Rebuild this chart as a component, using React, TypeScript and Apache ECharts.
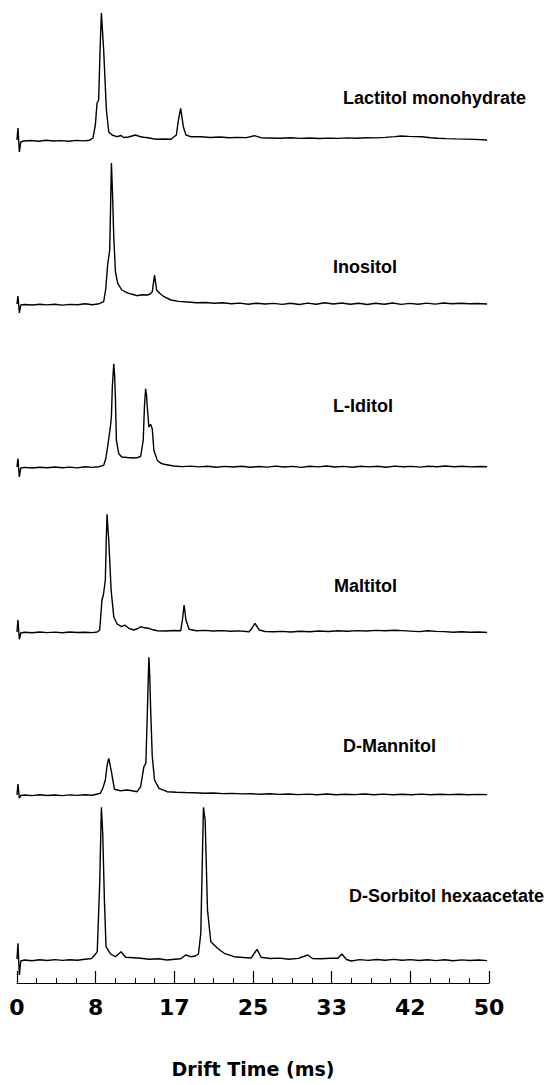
import React, { useEffect, useRef } from "react";
import * as echarts from "echarts";

// Drift-time spectra: [drift time (ms), relative intensity]
const lactitolMonohydrate = [
  [0, 0], [0.1, 12], [0.25, -12], [0.4, -2], [0.7, -1], [1.5, -0.5], [2.3, -1.2], [3.1, -0.3], [3.9, -1], [4.7, -0.6],
  [5.5, -1.3], [6.3, -0.4], [7.1, -0.9], [7.7, -0.2], [8.05, 2], [8.3, 15], [8.48, 37], [8.65, 40], [8.8, 90], [8.94, 127],
  [9.05, 110], [9.18, 90], [9.47, 30], [9.72, 8], [10.07, 5], [10.56, 3.3], [11.03, 4.5], [11.3, 2.5], [11.8, 3], [12.55, 5],
  [13.0, 3.5], [13.4, 2.7], [13.9, 2.3], [14.4, 1.2], [14.86, 0.7], [15.5, 1], [16.3, 0.7], [16.88, 5], [17.1, 20], [17.34, 31.7],
  [17.62, 13.3], [17.9, 5], [18.4, 3.3], [19.5, 3.3], [20.5, 2.5], [21.5, 3], [22.5, 2.2], [23.3, 2.6], [24.3, 2.4], [25.14, 4.3],
  [25.85, 2.3], [26.8, 2], [27.9, 1.7], [29, 2.3], [30, 1.6], [31, 2], [32, 1.5], [33, 1.9], [34, 1.6], [35, 2.1],
  [36, 1.7], [37, 2.2], [38, 2.1], [39, 2.6], [40, 3.4], [40.7, 4], [41.5, 3.6], [42.9, 3.3], [43.8, 2.3], [44.6, 1.7],
  [45.5, 1.4], [46.5, 1.1], [47.5, 0.9], [48.5, 0.6], [49.8, 0],
];

const inositol = [
  [0, 0], [0.1, 8], [0.25, -9], [0.4, -1], [0.8, -0.5], [1.6, -1], [2.4, -0.3], [3.2, -0.9], [4, -0.2], [4.8, -1.1],
  [5.6, -0.4], [6.4, -0.8], [7.2, 0.2], [8, -0.7], [8.7, 0.3], [9.18, 2.3], [9.4, 15], [9.6, 39], [9.82, 54], [9.92, 100],
  [10.0, 141], [10.12, 110], [10.25, 67], [10.43, 32], [10.67, 20.7], [11.1, 14], [11.5, 12], [11.85, 10.7], [12.3, 9.5], [12.73, 8.3],
  [13.2, 9.2], [13.8, 9], [14.1, 10], [14.33, 12.3], [14.57, 29], [14.79, 14], [15.0, 12], [15.2, 10], [15.57, 7.3], [16.3, 4],
  [17.1, 2.6], [18.05, 2], [19, 1.2], [20, 1.5], [20.9, 0.7], [21.8, 1.2], [22.7, 0.2], [23.6, 0.9], [24.5, -0.3], [25.4, 0.8],
  [26.3, 0], [27.2, 0.6], [28.1, -0.4], [29, 0.8], [29.9, -0.5], [30.8, 0.9], [31.7, -0.2], [32.6, 1.2], [33.5, 0], [34.4, 1],
  [35.3, -0.3], [36.2, 0.8], [37.1, -0.5], [38, 0.7], [38.9, -0.2], [39.8, 1], [40.7, -0.4], [41.6, 0.6], [42.5, -0.2], [43.4, 0.9],
  [44.3, -0.1], [45.2, 1], [46.1, 0.3], [47, 0.8], [47.9, 0.2], [48.8, 0.5], [49.8, 0],
];

const lIditol = [
  [0, 0], [0.1, 8.3], [0.25, -10], [0.4, -1], [0.8, -0.4], [1.6, -1], [2.4, -0.2], [3.2, -0.8], [4, 0], [4.8, -0.7],
  [5.6, -0.1], [6.4, -0.9], [7.2, 0.2], [8, -0.4], [8.7, 0.3], [9.18, 1.7], [9.4, 8], [9.6, 20], [9.89, 40], [10.0, 50],
  [10.1, 80], [10.25, 103.3], [10.35, 90], [10.43, 66.7], [10.53, 26.7], [10.78, 13.3], [11.1, 10], [11.7, 9.5], [12.37, 9], [12.8, 9.5],
  [13.1, 10.7], [13.37, 26.7], [13.5, 60], [13.62, 78.3], [13.72, 72], [13.8, 60], [13.97, 40], [14.15, 42.7], [14.33, 38.3], [14.5, 16.7],
  [14.86, 6.7], [15.2, 4], [15.57, 2.7], [16.6, 1], [17.5, 0.4], [18.4, 0.9], [19.3, 0.1], [20.2, 0.7], [21.1, -0.2], [22, 0.6],
  [22.9, 0], [23.8, 0.8], [24.7, -0.3], [25.6, 0.5], [26.5, -0.1], [27.4, 0.9], [28.3, 0], [29.2, 0.6], [30.1, -0.4], [31, 0.7],
  [31.9, 0.1], [32.8, 1], [33.7, 0], [34.6, 0.6], [35.5, -0.3], [36.4, 0.8], [37.3, 0.1], [38.2, 0.7], [39.1, -0.2], [40, 0.9],
  [40.9, 0.2], [41.8, 0.6], [42.7, -0.1], [43.6, 0.8], [44.5, 0.2], [45.4, 1], [46.3, 0.3], [47.2, 0.7], [48.1, 0.1], [49, 0.5],
  [49.8, 0.2],
];

const maltitol = [
  [0, 0], [0.1, 12], [0.25, -7.3], [0.4, -1], [0.8, -0.3], [1.6, -0.8], [2.4, 0], [3.2, -0.6], [4, -0.1], [4.8, -0.7],
  [5.6, 0], [6.4, -0.5], [7.2, -0.2], [8, -0.6], [8.5, 0], [8.76, 2], [9.0, 32], [9.15, 37], [9.36, 52], [9.45, 90],
  [9.54, 117.7], [9.62, 105], [9.72, 92], [9.97, 42], [10.25, 15.3], [10.6, 8], [11.1, 5.3], [11.42, 7], [11.85, 3.7], [12.37, 2],
  [12.8, 3.5], [13.16, 5.3], [13.5, 4.2], [13.97, 3.7], [14.4, 2.2], [14.86, 1.3], [15.7, 1], [16.6, 1.5], [17.34, 1.3], [17.52, 12],
  [17.7, 27], [17.9, 12], [18.23, 2.7], [19, 1.3], [19.9, 1.6], [20.8, 1], [21.7, 1.4], [22.6, 0.8], [23.5, 1.1], [24.6, 0.3],
  [24.9, 4], [25.2, 8.7], [25.67, 2], [26.3, 0.5], [27.2, 0.2], [28.1, 0.6], [29, 0], [30, 0.8], [31, 0.3], [32, 1],
  [33, 0.5], [34, 1.2], [35, 0.8], [36, 1.4], [37, 1], [38, 1.6], [39, 1.2], [40, 1.8], [40.8, 1.4], [41.7, 0.9],
  [42.6, 0.4], [43.5, 1.3], [44.4, 0.6], [45.3, 0.4], [46.2, -0.2], [47.1, 0.3], [48, -0.3], [48.9, 0], [49.8, -0.5],
];

const dMannitol = [
  [0, 0], [0.1, 11], [0.25, -3.3], [0.4, -0.5], [0.8, 0], [1.6, -0.6], [2.4, 0.2], [3.2, -0.5], [4, 0], [4.8, -0.6],
  [5.6, 0.1], [6.4, -0.4], [7.2, 0.2], [8, -0.3], [8.83, 1.7], [9.1, 7], [9.36, 15], [9.55, 30], [9.72, 36.7], [10.0, 23.3],
  [10.32, 5.7], [10.96, 4.3], [11.67, 5], [12.2, 4.2], [12.73, 3.3], [13.1, 8.3], [13.44, 28.3], [13.65, 31.7], [13.8, 80], [13.97, 137.7],
  [14.06, 120], [14.15, 88], [14.33, 38.3], [14.57, 15], [15.04, 6.7], [15.9, 3.3], [16.9, 2.8], [17.8, 2.5], [18.8, 2.3], [19.8, 1.8],
  [20.8, 2], [21.8, 1.4], [22.8, 1.6], [23.8, 1.1], [24.8, 1.3], [25.8, 0.8], [26.8, 1.2], [27.8, 0.6], [28.8, 1], [29.8, 0.4],
  [30.8, 0.9], [31.8, 0.3], [32.8, 1], [33.8, 0.2], [34.8, 0.8], [35.8, 0.4], [36.8, 1], [37.8, 0.3], [38.8, 0.9], [39.8, 0.2],
  [40.8, 0.8], [41.8, 0.3], [42.8, 0.9], [43.8, 0.2], [44.8, 0.7], [45.8, 0.4], [46.8, 0.8], [47.8, 0.3], [48.8, 0.6], [49.8, 0.4],
];

const dSorbitolHexaacetate = [
  [0, 0], [0.1, 15.7], [0.25, -16], [0.4, -2], [0.8, -1], [1.6, -1.8], [2.4, -0.8], [3.2, -1.5], [4, -0.6], [4.8, -1.4],
  [5.6, -0.7], [6.4, -1.2], [7.2, -0.3], [7.9, 0.5], [8.3, 4.7], [8.5, 7.3], [8.76, 75.7], [8.94, 151.7], [9.08, 125.7], [9.26, 59],
  [9.43, 12.3], [9.9, 5], [10.43, 2.3], [11.03, 7.3], [11.5, 1.7], [12.3, 1.2], [13.1, 0.7], [14, -0.3], [15, 0.2], [15.9, -1],
  [16.7, -0.2], [17.34, 0.3], [17.87, 4], [18.4, 2.3], [18.9, 3], [19.22, 5], [19.47, 25.7], [19.75, 151.7], [19.93, 139], [20.18, 49],
  [20.53, 17.3], [21.24, 10.7], [21.95, 5.7], [23.0, 2.3], [24.0, 1.5], [24.8, 1], [25.43, 9.7], [25.85, 1.7], [26.8, 0.5], [27.8, 0.9],
  [28.8, -0.2], [29.8, 0.6], [30.8, 4], [31.3, 0.5], [32.2, 0.2], [33.2, 0.8], [34.0, 0.8], [34.4, 5], [34.9, -0.5], [35.4, -2],
  [36.3, -0.6], [37.2, -1.4], [38.1, -0.5], [39, -1.2], [39.9, -0.4], [40.8, -1.3], [41.7, -0.6], [42.6, -1.5], [43.5, -0.8], [44.4, -1.6],
  [45.3, -0.7], [46.2, -1.8], [47.1, -0.9], [48, -1.5], [48.9, -1], [49.8, -1.6],
];

const compoundNames = [
  "Lactitol monohydrate",
  "Inositol",
  "L-Iditol",
  "Maltitol",
  "D-Mannitol",
  "D-Sorbitol hexaacetate",
];
const spectra = [lactitolMonohydrate, inositol, lIditol, maltitol, dMannitol, dSorbitolHexaacetate];

const tickLabels = ["0", "8", "17", "25", "33", "42", "50"];
const xAxisTitle = "Drift Time (ms)";

// layout (pixels)
const baselines = [140, 304, 467, 632, 795, 959];
const labelPos = [
  [343, 98],
  [333, 267],
  [333, 406],
  [334, 586],
  [343, 746],
  [349, 896],
];
const Y_MIN = -24;
const Y_MAX = 140;
const X_MAX = 50;
const TICK_STEP = X_MAX / 6;

export default function App() {
  const ref = useRef<HTMLDivElement>(null);

  useEffect(() => {
    document.body.style.margin = "0";
    if (!ref.current) return;
    const chart = echarts.init(ref.current, null, { renderer: "svg" });

    const grids = baselines.map((b) => ({
      left: 17,
      right: 67,
      top: b - Y_MAX,
      height: Y_MAX - Y_MIN,
      containLabel: false,
    }));

    const last = baselines.length - 1;
    const xAxes = baselines.map((_, i) => {
      const isBottom = i === last;
      return {
        type: "value",
        gridIndex: i,
        min: 0,
        max: X_MAX,
        interval: TICK_STEP,
        show: isBottom,
        position: "bottom",
        splitLine: { show: false },
        axisLine: { show: isBottom, onZero: false, lineStyle: { color: "#000", width: 1.2 } },
        axisTick: { show: isBottom, inside: true, length: 12, lineStyle: { color: "#000", width: 1.2 } },
        minorTick: { show: isBottom, splitNumber: 4, length: 5, lineStyle: { color: "#000", width: 1 } },
        axisLabel: {
          show: isBottom,
          margin: 13,
          color: "#000",
          fontFamily: "DejaVu Sans",
          fontWeight: "bold",
          fontSize: 22,
          formatter: (v: number) => tickLabels[Math.round(v / TICK_STEP)] ?? "",
        },
        name: isBottom ? xAxisTitle : "",
        nameLocation: "middle",
        nameGap: 76,
        nameTextStyle: {
          color: "#000",
          fontFamily: "DejaVu Sans",
          fontWeight: "bold",
          fontSize: 19,
        },
      };
    });

    const yAxes = baselines.map((_, i) => ({
      type: "value",
      gridIndex: i,
      min: Y_MIN,
      max: Y_MAX,
      show: false,
      splitLine: { show: false },
    }));

    const series = spectra.map((data, i) => ({
      type: "line",
      name: compoundNames[i],
      xAxisIndex: i,
      yAxisIndex: i,
      data,
      showSymbol: false,
      symbol: "none",
      clip: false,
      smooth: false,
      lineStyle: { color: "#000", width: 1.4 },
    }));

    const labels = compoundNames.map((name, i) => ({
      type: "text",
      x: labelPos[i][0],
      y: labelPos[i][1],
      style: {
        text: name,
        fill: "#000",
        font: 'bold 18px "Liberation Sans", Arial, sans-serif',
        align: "left",
        verticalAlign: "middle",
      },
    }));

    chart.setOption({
      animation: false,
      backgroundColor: "#fff",
      grid: grids,
      xAxis: xAxes,
      yAxis: yAxes,
      series,
      graphic: labels,
    });

    return () => chart.dispose();
  }, []);

  return <div ref={ref} style={{ width: 556, height: 1085 }} />;
}
